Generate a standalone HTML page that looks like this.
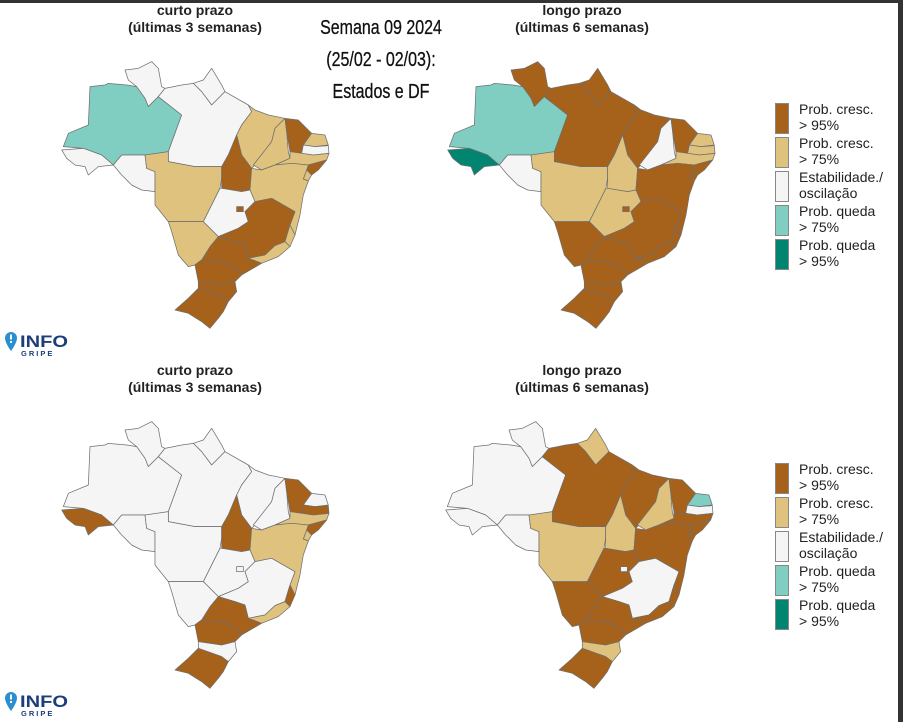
<!DOCTYPE html>
<html><head><meta charset="utf-8">
<style>
html,body{margin:0;padding:0;background:#fff;}
body{width:903px;height:722px;position:relative;overflow:hidden;font-family:"Liberation Sans",Arial,sans-serif;}
.ttl{position:absolute;width:260px;text-align:center;font-weight:bold;font-size:14px;line-height:17px;color:#222;}
.head{position:absolute;left:281px;width:200px;text-align:center;font-family:"Liberation Sans",sans-serif;font-size:20px;color:#111;line-height:32px;top:12px;transform:scaleX(0.8);transform-origin:center top;-webkit-text-stroke:0.3px #111;}
.leg{position:absolute;left:775px;}
.sw{position:absolute;left:0;width:14px;height:31px;border:1px solid #888;box-sizing:border-box;}
.lt{position:absolute;left:24px;font-size:14px;line-height:16px;color:#222;white-space:nowrap;}
.logo{position:absolute;left:4px;width:70px;height:26px;}
</style></head><body>
<div style="position:absolute;left:0;top:0;width:903px;height:3px;background:#333"></div>
<div style="position:absolute;left:898px;top:0;width:5px;height:722px;background:#333"></div>

<div class="ttl" style="left:65px;top:2px">curto prazo<br>(últimas 3 semanas)</div>
<div class="ttl" style="left:452px;top:2px">longo prazo<br>(últimas 6 semanas)</div>
<div class="ttl" style="left:65px;top:362px">curto prazo<br>(últimas 3 semanas)</div>
<div class="ttl" style="left:452px;top:362px">longo prazo<br>(últimas 6 semanas)</div>
<div class="head">Semana 09 2024<br>(25/02 - 02/03):<br>Estados e DF</div>

<svg id="maps" width="903" height="722" style="position:absolute;left:0;top:0"></svg>

<div class="leg" style="top:103px">
 <div class="sw" style="top:0;background:#A6611A"></div>
 <div class="sw" style="top:34px;background:#DFC27D"></div>
 <div class="sw" style="top:68px;background:#F5F5F5"></div>
 <div class="sw" style="top:102px;background:#80CDC1"></div>
 <div class="sw" style="top:136px;background:#018571"></div>
 <div class="lt" style="top:-2px">Prob. cresc.<br>&gt; 95%</div>
 <div class="lt" style="top:32px">Prob. cresc.<br>&gt; 75%</div>
 <div class="lt" style="top:66px">Estabilidade./<br>oscilação</div>
 <div class="lt" style="top:100px">Prob. queda<br>&gt; 75%</div>
 <div class="lt" style="top:134px">Prob. queda<br>&gt; 95%</div>
</div>
<div class="leg" style="top:463px">
 <div class="sw" style="top:0;background:#A6611A"></div>
 <div class="sw" style="top:34px;background:#DFC27D"></div>
 <div class="sw" style="top:68px;background:#F5F5F5"></div>
 <div class="sw" style="top:102px;background:#80CDC1"></div>
 <div class="sw" style="top:136px;background:#018571"></div>
 <div class="lt" style="top:-2px">Prob. cresc.<br>&gt; 95%</div>
 <div class="lt" style="top:32px">Prob. cresc.<br>&gt; 75%</div>
 <div class="lt" style="top:66px">Estabilidade./<br>oscilação</div>
 <div class="lt" style="top:100px">Prob. queda<br>&gt; 75%</div>
 <div class="lt" style="top:134px">Prob. queda<br>&gt; 95%</div>
</div>

<svg class="logo" style="top:331px" viewBox="0 0 70 26">
 <path d="M7 1a6 6 0 0 1 6 6c0 5-6 13-6 13S1 12 1 7a6 6 0 0 1 6-6z" fill="#2a8fd0"/>
 <rect x="6" y="3.5" width="2" height="5" fill="#fff"/><rect x="6" y="10" width="2" height="2" fill="#fff"/>
 <text x="16" y="16" font-family="Liberation Sans,sans-serif" font-weight="bold" font-size="17" fill="#1c3f7c" textLength="48" lengthAdjust="spacingAndGlyphs">INFO</text>
 <text x="17" y="25" font-family="Liberation Sans,sans-serif" font-weight="bold" font-size="7.5" letter-spacing="2" fill="#1c3f7c">GRIPE</text>
</svg>
<svg class="logo" style="top:691px" viewBox="0 0 70 26">
 <path d="M7 1a6 6 0 0 1 6 6c0 5-6 13-6 13S1 12 1 7a6 6 0 0 1 6-6z" fill="#2a8fd0"/>
 <rect x="6" y="3.5" width="2" height="5" fill="#fff"/><rect x="6" y="10" width="2" height="2" fill="#fff"/>
 <text x="16" y="16" font-family="Liberation Sans,sans-serif" font-weight="bold" font-size="17" fill="#1c3f7c" textLength="48" lengthAdjust="spacingAndGlyphs">INFO</text>
 <text x="17" y="25" font-family="Liberation Sans,sans-serif" font-weight="bold" font-size="7.5" letter-spacing="2" fill="#1c3f7c">GRIPE</text>
</svg>

<script>
// Category values: 2=cresc>95, 1=cresc>75, 0=estab, -1=queda>75, -2=queda>95
const stateCodes = ["RR","AP","AM","AC","RO","PA","MT","MA","TO","PI","CE","RN","PB","PE","AL","SE","BA","GO","DF","MG","ES","RJ","SP","MS","PR","SC","RS"];
const shortTermTop    = [0,0,-1,0,0,0,1,1,2,1,2,1,0,1,2,1,1,0,2,2,1,1,2,1,2,2,2];
const longTermTop     = [2,2,-1,-2,0,2,1,2,1,0,2,1,1,1,2,2,2,1,2,2,2,2,2,2,2,2,2];
const shortTermBottom = [0,0,0,2,0,0,0,0,2,0,2,0,2,1,2,1,1,0,0,0,2,1,2,0,2,0,2];
const longTermBottom  = [0,1,0,0,0,2,1,2,1,1,2,-1,0,2,2,2,2,2,0,0,2,2,2,2,2,1,2];
const colorOf = {"2":"#A6611A","1":"#DFC27D","0":"#F5F5F5","-1":"#80CDC1","-2":"#018571"};

const shapes = {
RR:"210,45 250,40 290,20 310,40 320,95 330,100 310,125 280,155 270,130 245,95 220,75",
AP:"415,85 445,75 470,40 500,90 510,110 470,150 440,110",
AM:"25,275 40,235 100,210 105,95 150,90 160,85 215,90 245,95 270,130 280,155 310,125 380,180 340,290 300,300 270,300 240,300 200,300 175,330 140,300 85,280",
AC:"20,285 85,280 140,300 175,330 130,335 100,360 90,335 60,330 35,310",
RO:"175,330 200,300 270,300 275,340 300,350 300,410 260,405 230,390 200,360",
PA:"310,125 330,100 380,90 415,85 440,110 470,150 510,110 580,150 590,170 560,210 545,240 520,300 500,335 420,335 340,320 340,290 380,180",
MT:"270,300 340,290 340,320 420,335 500,335 500,370 495,400 445,500 420,500 340,500 300,450 300,410 300,350 275,340",
MA:"580,150 600,165 640,180 690,190 660,220 650,260 600,330 590,340 560,300 545,240 560,210 590,170",
TO:"545,240 560,300 590,340 585,405 560,410 500,400 500,335 520,300",
PI:"690,190 695,230 700,290 705,310 660,330 620,345 595,330 650,260 660,220",
CE:"690,190 730,195 770,235 745,270 740,295 705,290 695,230",
RN:"770,235 810,240 820,270 780,275 745,270",
PB:"745,270 780,275 820,272 822,295 775,300 740,295",
PE:"705,290 740,295 775,300 822,295 815,315 760,330 710,325 660,330 705,310",
AL:"760,330 815,315 790,345 770,360 755,345",
SE:"755,345 770,360 760,378 745,372",
BA:"590,340 620,345 660,330 710,325 760,330 755,345 745,372 760,378 745,420 735,480 720,540 705,510 720,470 650,430 600,440 585,405",
GO:"500,400 560,410 585,405 600,440 570,470 580,500 550,520 490,545 445,500 495,400",
DF:"545,455 565,455 565,470 545,470",
MG:"570,470 600,440 650,430 720,470 705,510 690,560 660,572 630,600 580,610 570,570 540,560 490,545 550,520 580,500",
ES:"705,510 720,540 705,575 690,560",
RJ:"580,610 630,600 660,572 690,560 705,575 670,605 620,625",
SP:"490,545 540,560 570,570 580,610 620,625 560,660 545,640 500,620 440,615 465,575",
MS:"340,500 420,500 445,500 490,545 465,575 440,615 420,630 400,635 370,600 350,530",
PR:"440,615 500,620 545,640 560,660 540,680 500,690 430,680 420,630",
SC:"430,680 500,690 540,680 545,710 520,740 500,725 430,700",
RS:"430,700 500,725 520,740 505,770 490,790 465,820 440,800 400,775 360,765 400,730"
};

const maps = [
 {name:"map-short-term-top", vals:shortTermTop, dx:55, dy:55},
 {name:"map-long-term-top", vals:longTermTop, dx:441, dy:55},
 {name:"map-short-term-bottom", vals:shortTermBottom, dx:55, dy:415},
 {name:"map-long-term-bottom", vals:longTermBottom, dx:439, dy:415}
];
const svg = document.getElementById('maps');
const NS = "http://www.w3.org/2000/svg";
maps.forEach(m => {
  const g = document.createElementNS(NS,'g');
  g.setAttribute('transform','translate('+m.dx+','+m.dy+') scale(0.3333)');
  
  
  stateCodes.forEach((c,i) => {
    const p = document.createElementNS(NS,'polygon');
    p.setAttribute('points', shapes[c]);
    p.setAttribute('fill', colorOf[String(m.vals[i])]);
    p.setAttribute('stroke', '#6f6f6f');
    p.setAttribute('stroke-width', '2.2');
    p.setAttribute('stroke-linejoin', 'round');
    
    
    g.appendChild(p);
  });
  svg.appendChild(g);
});
</script>
</body></html>
